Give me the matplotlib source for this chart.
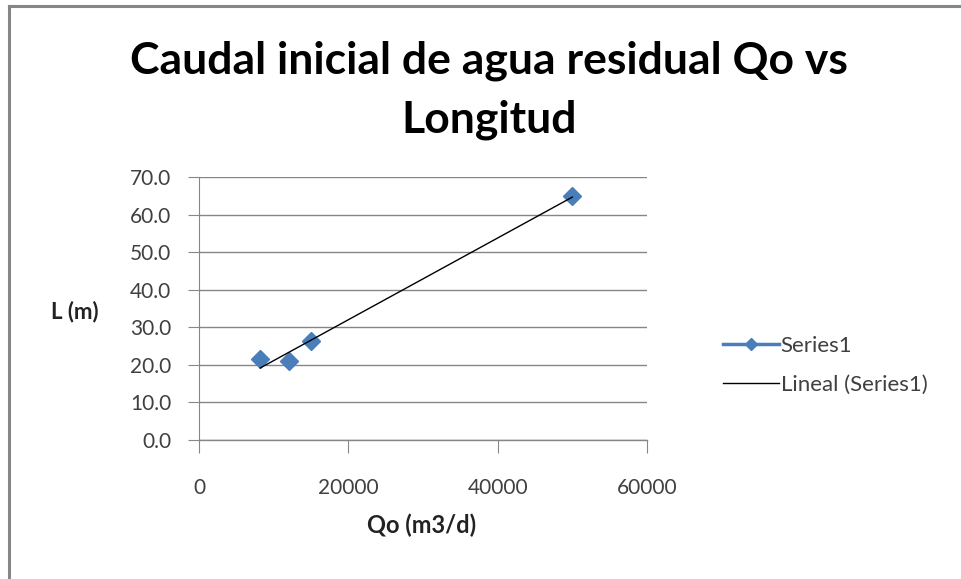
import numpy as np
import matplotlib.pyplot as plt
from matplotlib.lines import Line2D

# datos
qo = [8200, 12100, 15000, 50000]       # Qo (m3/d)
longitud = [21.5, 21.0, 26.4, 64.9]    # L (m)
x_ticks = [0, 20000, 40000, 60000]
y_ticks = [0, 10, 20, 30, 40, 50, 60, 70]

azul = '#4A7EBB'
gris = '#868686'
texto = '#404040'

plt.rcParams['font.family'] = ['Lato', 'DejaVu Sans']

fig = plt.figure(figsize=(9.61, 5.79), dpi=100)
ax = fig.add_axes([199/961, 1-440/579, 448/961, 263/579])

# borde del area del grafico (solo arriba e izquierda visibles)
fig.add_artist(Line2D([9/961, 9/961], [0, 1-6/579], color=gris, lw=2.2, transform=fig.transFigure))
fig.add_artist(Line2D([9/961, 1], [1-6/579, 1-6/579], color=gris, lw=2.2, transform=fig.transFigure))

ax.plot(qo, longitud, linestyle='none', marker='D', markersize=9, color=azul, zorder=3)

# linea de tendencia lineal
m, b = np.polyfit(qo, longitud, 1)
xt = np.array([min(qo), max(qo)])
ax.plot(xt, m*xt + b, color='black', lw=1, zorder=4)

ax.set_xlim(0, 60000)
ax.set_ylim(0, 70)
ax.set_xticks(x_ticks)
ax.set_yticks(y_ticks)
ax.set_yticklabels(['%.1f' % v for v in y_ticks])
ax.yaxis.grid(True, color=gris, lw=1)
ax.set_axisbelow(True)
for s in ['top', 'right', 'bottom']:
    ax.spines[s].set_visible(False)
ax.spines['left'].set_color(gris)
ax.tick_params(axis='y', direction='out', length=8, color=gris, pad=12, labelsize=15, labelcolor=texto)
ax.tick_params(axis='x', direction='out', length=9, color=gris, pad=18, labelsize=15, labelcolor=texto)
ax.axhline(0, color=gris, lw=1, clip_on=False)

fig.text(489/961, 1-74/579, 'Caudal inicial de agua residual Qo vs',
         ha='center', va='baseline', fontsize=32, fontweight='bold')
fig.text(489/961, 1-132/579, 'Longitud',
         ha='center', va='baseline', fontsize=32, fontweight='bold')
fig.text(75/961, 1-312/579, 'L (m)', ha='center', va='center', fontsize=16, fontweight='bold', color='#222222')
fig.text(422/961, 1-525/579, 'Qo (m3/d)', ha='center', va='center', fontsize=17, fontweight='bold', color='#222222')

handles = [Line2D([], [], color=azul, lw=2.5, marker='D', markersize=6),
           Line2D([], [], color='black', lw=1)]
fig.legend(handles, ['Series1', 'Lineal (Series1)'], loc='center left',
           bbox_to_anchor=(703/961, 1-365/579), frameon=False, fontsize=16,
           handlelength=2.5, handletextpad=0.1, labelspacing=0.85, labelcolor=texto)

fig.savefig('out.png', dpi=100)
